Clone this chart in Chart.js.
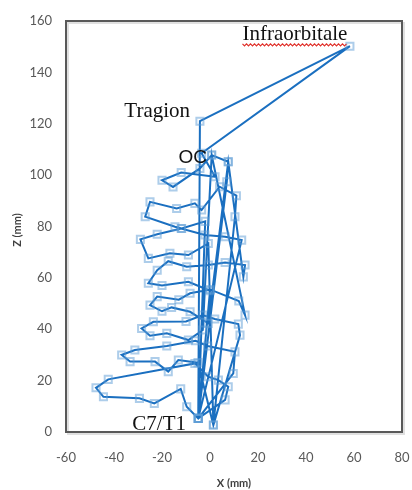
<!DOCTYPE html>
<html>
<head>
<meta charset="utf-8">
<script src="https://cdn.jsdelivr.net/npm/chart.js@4.4.1/dist/chart.umd.min.js"></script>
<style>
  html, body { margin: 0; padding: 0; background: #fff; }
  #wrap { width: 412px; height: 490px; }
</style>
</head>
<body>
<div id="wrap"><canvas id="chart" width="412" height="490"></canvas></div>
<script>
// Landmark trajectory in the sagittal plane (X, Z in mm)
const baseX = [-4.9, 1.4];
const baseZ = [5.3, 2.7];

const t1X = [6.3, 7.6, 3.5, -0.7, -6.3, -42.4, -47.5, -44.4, -29.4, -23.2, -12.2, -9.7];
const t1Z = [12.5, 17.6, 20.2, 21.5, 26.7, 20.5, 17.2, 13.7, 13.1, 11.1, 16.8, 9.8];

const c7X = [9.7, 10.4, -1.0, -6.0, -18.0, -31.3, -36.8, -33.3, -22.9, -17.4, -13.2, -5.0];
const c7Z = [22.8, 31.2, 33.5, 35.5, 33.5, 31.9, 30.0, 27.4, 27.4, 23.5, 28.0, 27.0];

const c6X = [12.5, 11.8, 2.0, -3.0, -10.0, -23.6, -28.5, -25.0, -18.0, -9.0, -3.0];
const c6Z = [37.7, 42.0, 44.0, 45.5, 43.0, 42.9, 40.3, 37.5, 38.4, 35.8, 39.7];

const c5X = [14.6, 12.0, 0.0, -8.3, -13.0, -22.0, -25.0, -20.0, -16.0, -8.3, -0.7];
const c5Z = [45.5, 51.0, 55.5, 54.0, 51.5, 52.7, 49.4, 47.0, 48.5, 46.8, 42.3];

const c4X = [13.9, 14.6, 6.3, -0.7, -9.7, -17.4, -22.0, -25.7, -20.0, -9.0, 0.0];
const c4Z = [60.4, 65.0, 66.0, 65.0, 64.3, 66.5, 63.0, 57.9, 57.0, 58.5, 55.0];

const c3X = [13.2, 6.3, -2.1, -12.0, -22.0, -29.0, -25.7, -16.7, -9.0, -0.7];
const c3Z = [74.7, 76.0, 76.7, 79.2, 77.0, 75.0, 67.6, 69.6, 68.9, 73.4];

const c2X = [10.4, 11.0, 4.0, -3.5, -6.3, -13.9, -25.0, -27.0, -14.6, -11.8, -2.0];
const c2Z = [83.8, 92.0, 95.5, 86.4, 89.0, 87.0, 89.6, 83.8, 79.9, 79.2, 82.0];

const c1X = [7.0, 7.6, 0.7, -4.2, -15.4, -20.0, -12.0, 2.1];
const c1Z = [97.4, 105.2, 107.8, 102.6, 95.4, 98.0, 101.0, 99.4];

// upper reference points the path passes back through
const topX = [0.7, 7.6];
const topZ = [107.8, 105.2];

// OC -> Infraorbitale -> Tragion
const headX = [-3.5, 58.3, -4.2];
const headZ = [108.5, 150.2, 121.0];

// Text labels placed in data coordinates
const labelText = ['Infraorbitale', 'Tragion', 'OC', 'C7/T1'];
const labelX = [35.4, -22.0, -7.2, -21.2];
const labelZ = [154.6, 124.6, 106.6, 3.0];

const xTicks = { min: -60, max: 80, step: 20 };
const zTicks = { min: 0, max: 160, step: 20 };

// Order in which the trajectory is traced
const parts = {
  b0: [[baseX[0]], [baseZ[0]]], b1: [[baseX[1]], [baseZ[1]]],
  p0: [[topX[0]], [topZ[0]]], p1: [[topX[1]], [topZ[1]]],
  t1: [t1X, t1Z], c7: [c7X, c7Z], c6: [c6X, c6Z], c5: [c5X, c5Z],
  c4: [c4X, c4Z], c3: [c3X, c3Z], c2: [c2X, c2Z], c1: [c1X, c1Z],
  head: [headX, headZ]
};
const order = ['b0', 't1', 'b0', 'c7', 'b1', 'c6', 'p0', 'c5', 'p1', 'c4', 'b0', 'c3', 'b1', 'c2', 'b0', 'c1', 'head', 'b0'];
const path = [];
order.forEach(k => {
  const [xs, zs] = parts[k];
  xs.forEach((v, j) => path.push({ x: v, y: zs[j] }));
});

const frame = {
  id: 'frame',
  beforeDatasetsDraw(chart) {
    const { ctx, chartArea: a } = chart;
    ctx.save();
    ctx.strokeStyle = 'rgba(0,0,0,0.12)';
    ctx.lineWidth = 2;
    ctx.strokeRect(a.left + 2, a.top + 2, a.right - a.left, a.bottom - a.top);
    ctx.strokeStyle = '#595959';
    ctx.lineWidth = 2;
    ctx.strokeRect(a.left, a.top, a.right - a.left, a.bottom - a.top);
    ctx.restore();
  },
  afterDraw(chart) {
    const { ctx, scales } = chart;
    ctx.save();
    // axis titles
    ctx.fillStyle = '#404040';
    ctx.font = 'bold 11px Lato, "Liberation Sans", sans-serif';
    ctx.textAlign = 'center';
    ctx.textBaseline = 'middle';
    ctx.fillText('X (mm)', 234, 483);
    ctx.translate(17, 230);
    ctx.rotate(-Math.PI / 2);
    ctx.fillText('Z (mm)', 0, 0);
    ctx.restore();

    // landmark labels
    ctx.save();
    ctx.fillStyle = '#111';
    ctx.textAlign = 'center';
    ctx.textBaseline = 'middle';
    labelText.forEach((t, i) => {
      const px = scales.x.getPixelForValue(labelX[i]);
      const py = scales.y.getPixelForValue(labelZ[i]);
      ctx.font = t === 'OC' ? '19px "Liberation Sans", Arial, sans-serif' : '21px "Liberation Serif", "Times New Roman", serif';
      ctx.fillText(t, px, py);
      if (t === 'Infraorbitale') {
        // spell-check style wavy underline
        const w = ctx.measureText(t).width;
        const x0 = px - w / 2, x1 = px + w / 2, y0 = py + 9;
        ctx.beginPath();
        ctx.strokeStyle = '#e0302a';
        ctx.lineWidth = 1.2;
        for (let x = x0, k = 0; x <= x1; x += 2, k++) {
          const y = y0 + (k % 2 === 0 ? 0 : 2);
          if (k === 0) ctx.moveTo(x, y); else ctx.lineTo(x, y);
        }
        ctx.stroke();
      }
    });
    ctx.restore();
  }
};

const tickFont = { family: 'Lato, "Liberation Sans", sans-serif', size: 13 };

new Chart(document.getElementById('chart'), {
  type: 'scatter',
  data: {
    datasets: [{
      data: path,
      showLine: true,
      borderColor: '#1a6fc0',
      borderWidth: 2,
      tension: 0,
      pointStyle: 'rect',
      pointRadius: 5,
      pointBorderWidth: 2,
      pointBorderColor: 'rgba(91,155,213,0.5)',
      pointBackgroundColor: 'rgba(0,0,0,0)'
    }]
  },
  options: {
    responsive: false,
    animation: false,
    layout: { padding: { top: 21, right: 10, left: 0, bottom: 0 } },
    plugins: { legend: { display: false }, tooltip: { enabled: false } },
    scales: {
      x: {
        type: 'linear',
        min: xTicks.min, max: xTicks.max,
        ticks: { stepSize: xTicks.step, padding: 18, color: '#595959', font: tickFont },
        grid: { display: false, drawTicks: false },
        border: { display: false },
        afterFit(s) { s.height = 58; s.paddingLeft = 0; s.paddingRight = 0; }
      },
      y: {
        type: 'linear',
        min: zTicks.min, max: zTicks.max,
        ticks: { stepSize: zTicks.step, padding: 14, color: '#595959', font: tickFont },
        grid: { display: false, drawTicks: false },
        border: { display: false },
        afterFit(s) { s.width = 66; s.paddingTop = 0; s.paddingBottom = 0; }
      }
    }
  },
  plugins: [frame]
});
</script>
</body>
</html>
